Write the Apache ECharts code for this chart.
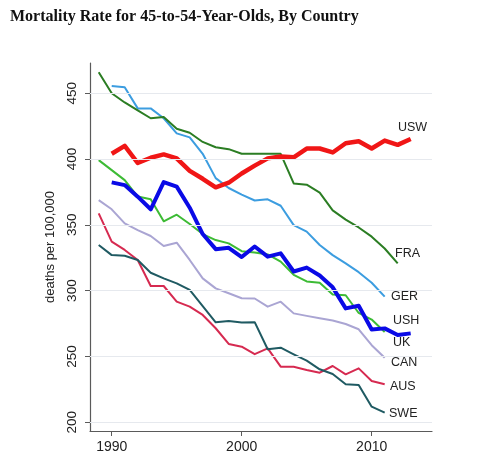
<!DOCTYPE html>
<html>
<head>
<meta charset="utf-8">
<script src="https://cdn.jsdelivr.net/npm/echarts@6/dist/echarts.min.js"></script>
<style>
html,body{margin:0;padding:0;background:#fff;}
#chart{width:488px;height:464px;}
</style>
</head>
<body>
<div id="chart"></div>
<script>
// ---- data ----
const yTicks = [200, 250, 300, 350, 400, 450];
const xTicks = [1990, 2000, 2010];

const fraYears = [1989,1990,1991,1992,1993,1994,1995,1996,1997,1998,1999,2000,2001,2002,2003,2004,2005,2006,2007,2008,2009,2010,2011,2012];
const fraValues = [466,450,443,437,431,432,423,420,413,409,407.5,404,404,404,404,381.5,380.5,374.5,361,354,348,341,332,320.7];

const uswYears = [1990,1991,1992,1993,1994,1995,1996,1997,1998,1999,2000,2001,2002,2003,2004,2005,2006,2007,2008,2009,2010,2011,2012,2013];
const uswValues = [404,410,397,401,403.5,400.5,391,385,378.5,382,389,395,400.5,402,401.3,408,408,405,412,413.5,408,414,410.8,415.2];

const gerYears = [1990,1991,1992,1993,1994,1995,1996,1997,1998,1999,2000,2001,2002,2003,2004,2005,2006,2007,2008,2009,2010,2011];
const gerValues = [455.5,454.5,438.5,438.5,431,419.5,416.5,404,385.5,378,373,368.5,369.4,364.5,349.8,344.8,334.7,327,320.7,314,306,295.4];

const ushYears = [1990,1991,1992,1993,1994,1995,1996,1997,1998,1999,2000,2001,2002,2003,2004,2005,2006,2007,2008,2009,2010,2011,2012,2013];
const ushValues = [382.3,380.2,371.4,361.8,382.5,379,363,343,331.5,332.5,325.5,333.5,325.8,328.3,314.5,317.5,311.5,302.5,286.5,288.5,270.5,271.3,266.3,267.5];

const ukYears = [1989,1990,1991,1992,1993,1994,1995,1996,1997,1998,1999,2000,2001,2002,2003,2004,2005,2006,2007,2008,2009,2010,2011];
const ukValues = [399.2,391.6,384,371.5,369.4,352.7,357.7,350.6,343,338.4,335.9,330,329,327.5,322,312,307,306,297,296.5,283,278,268.5];

const canYears = [1989,1990,1991,1992,1993,1994,1995,1996,1997,1998,1999,2000,2001,2002,2003,2004,2005,2006,2007,2008,2009,2010,2011];
const canValues = [368.8,361.8,351.1,346,341.5,333.9,336.4,323.3,309.3,301.7,298,294.2,294,287.8,291.6,282.7,280.8,279,277.3,274.6,270.6,258.5,249];

const sweYears = [1989,1990,1991,1992,1993,1994,1995,1996,1997,1998,1999,2000,2001,2002,2003,2004,2005,2006,2007,2008,2009,2010,2011];
const sweValues = [334.7,327,326.5,323.3,313.6,309.3,305.5,300.5,288.3,275.9,276.9,275.7,276,255.4,256.6,251.6,246.8,240.2,236.6,228.8,228.3,211.8,207.2];

const ausYears = [1989,1990,1991,1992,1993,1994,1995,1996,1997,1998,1999,2000,2001,2002,2003,2004,2005,2006,2007,2008,2009,2010,2011];
const ausValues = [358.7,337.2,330.9,323.3,303.5,303.5,291.6,287.8,281.5,271.4,259.5,257.4,251.7,256.1,242.2,242.2,239.7,237.6,242.7,236.4,240.9,231.3,228.8];

const countryNames = ['USW','FRA','GER','USH','UK','CAN','AUS','SWE'];

// ---- chart ----
function pairs(xs, ys){ return xs.map((x,i)=>[x, ys[i]]); }

const seriesDefs = [
  {name:'CAN', years:canYears, values:canValues, color:'#aaa5d3', width:2},
  {name:'AUS', years:ausYears, values:ausValues, color:'#d62a50', width:2},
  {name:'SWE', years:sweYears, values:sweValues, color:'#1f5a62', width:2},
  {name:'GER', years:gerYears, values:gerValues, color:'#3c9de0', width:2},
  {name:'FRA', years:fraYears, values:fraValues, color:'#2b7d23', width:2},
  {name:'UK',  years:ukYears,  values:ukValues,  color:'#3dbb35', width:2},
  {name:'USH', years:ushYears, values:ushValues, color:'#0a0ae6', width:4},
  {name:'USW', years:uswYears, values:uswValues, color:'#f01616', width:4.5}
];

const series = [{
  type:'line', data:[], silent:true, z:0,
  markLine:{
    silent:true, symbol:['none','none'], animation:false,
    label:{show:false},
    lineStyle:{color:'#e6e9ee', width:1, type:'solid'},
    data: yTicks.map(v=>({yAxis:v}))
  }
}].concat(seriesDefs.map(s=>({
  name:s.name, type:'line', data:pairs(s.years, s.values),
  showSymbol:false, symbol:'none', smooth:false,
  lineStyle:{color:s.color, width:s.width, join:'round'},
  itemStyle:{color:s.color}, z:3
})));

const labelPos = {
  USW:[398,128], FRA:[395,254], GER:[391,297], USH:[393,321],
  UK:[393,343], CAN:[391,363], AUS:[390,387], SWE:[389,414]
};

const graphics = [{
  type:'text', left:10, top:9,
  style:{text:'Mortality Rate for 45-to-54-Year-Olds, By Country', fill:'#111',
    font:'bold 16px "Liberation Serif", "DejaVu Serif", serif'}
}].concat(countryNames.map(n=>({
  type:'text', left:labelPos[n][0], top:labelPos[n][1]-7,
  style:{text:n, fill:'#222', font:'12.5px "Liberation Sans", Arial, sans-serif'}
})));

const chart = echarts.init(document.getElementById('chart'), null, {renderer:'canvas'});
chart.setOption({
  animation:false,
  backgroundColor:'#fff',
  grid:{left:90, right:56, top:63, bottom:33, containLabel:false},
  xAxis:{
    type:'value', min:1988.33, max:2014.64,
    axisLine:{show:true, lineStyle:{color:'#5a5a5a', width:1.2}},
    axisTick:{show:true, length:5, lineStyle:{color:'#5a5a5a'}, customValues:xTicks},
    axisLabel:{color:'#222', fontSize:14, margin:9, fontFamily:'"Liberation Sans", Arial, sans-serif',
      customValues:xTicks, formatter:function(v){ return String(Math.round(v)); }},
    splitLine:{show:false}
  },
  yAxis:{
    type:'value', min:193.3, max:473,
    name:'deaths per 100,000', nameLocation:'middle', nameGap:33, nameRotate:90,
    nameTextStyle:{color:'#222', fontSize:13, fontFamily:'"Liberation Sans", Arial, sans-serif'},
    axisLine:{show:true, lineStyle:{color:'#5a5a5a', width:1.2}},
    axisTick:{show:true, length:5, lineStyle:{color:'#5a5a5a'}, customValues:yTicks},
    axisLabel:{color:'#222', fontSize:13.5, rotate:90, margin:11, fontFamily:'"Liberation Sans", Arial, sans-serif',
      customValues:yTicks, formatter:function(v){ return String(Math.round(v)); }},
    splitLine:{show:false}
  },
  graphic:graphics,
  series:series
});
</script>
</body>
</html>
